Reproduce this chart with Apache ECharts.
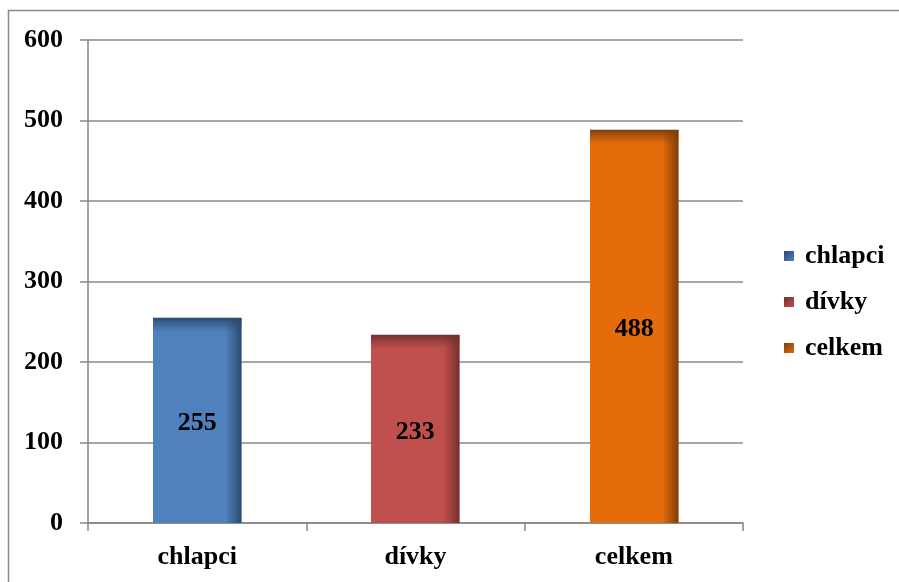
<!DOCTYPE html>
<html>
<head>
<meta charset="utf-8">
<script src="https://cdn.jsdelivr.net/npm/echarts@6/dist/echarts.min.js"></script>
<style>
  html, body { margin: 0; padding: 0; background: #fff; }
  #chart { width: 899px; height: 582px; }
</style>
</head>
<body>
<div id="chart"></div>
<script>
// Počty žáků
const categories = ['chlapci', 'dívky', 'celkem'];
const values = [255, 233, 488];
const yTicks = [0, 100, 200, 300, 400, 500, 600];

const baseColors = ['#4F81BD', '#C0504D', '#E46C0A'];
const darkColors = ['#2B4A70', '#74302E', '#7E3E08'];

const FONT = '"Liberation Serif", "Times New Roman", serif';

function shade(c, a) {
  // hex -> rgba
  const n = parseInt(c.slice(1), 16);
  return 'rgba(' + (n >> 16) + ',' + ((n >> 8) & 255) + ',' + (n & 255) + ',' + a + ')';
}

function makeRender(idx) {
  return function (params, api) {
    const xi = api.value(0);
    const v = api.value(1);
    const top = api.coord([xi, v]);
    const base = api.coord([xi, 0]);
    const bw = api.size([1, 0])[0] * 0.405;
    const left = Math.round(top[0] - bw / 2);
    const y0 = Math.round(top[1]);
    const h = Math.round(base[1]) - y0;
    const dark = darkColors[idx];
    return {
      type: 'group',
      children: [
        { type: 'rect', shape: { x: left, y: y0, width: bw, height: h },
          style: { fill: baseColors[idx] } },
        { type: 'rect', shape: { x: left, y: y0, width: bw, height: Math.min(14, h) },
          style: { fill: new echarts.graphic.LinearGradient(0, 0, 0, 1, [
            { offset: 0, color: shade(dark, 1) },
            { offset: 0.35, color: shade(dark, 0.55) },
            { offset: 1, color: shade(dark, 0) }
          ]) } },
        { type: 'rect', shape: { x: left + bw - 16, y: y0, width: 16, height: h },
          style: { fill: new echarts.graphic.LinearGradient(0, 0, 1, 0, [
            { offset: 0, color: shade(dark, 0) },
            { offset: 0.6, color: shade(dark, 0.6) },
            { offset: 1, color: shade(dark, 1) }
          ]) } },
        { type: 'line', shape: { x1: left, y1: y0 - 0.5, x2: left + bw, y2: y0 - 0.5 },
          style: { stroke: '#C8CDD4', lineWidth: 1 } },
        { type: 'text', x: left + bw / 2, y: (y0 + base[1]) / 2 + 3,
          style: { text: String(v), fill: '#000', font: 'bold 26px ' + FONT,
                   align: 'center', verticalAlign: 'middle' } }
      ]
    };
  };
}

const series = categories.map(function (name, i) {
  return {
    name: name,
    type: 'custom',
    renderItem: makeRender(i),
    itemStyle: { color: baseColors[i] },
    encode: { x: 0, y: 1 },
    data: [[i, values[i]]]
  };
});

const chart = echarts.init(document.getElementById('chart'));
chart.setOption({
  animation: false,
  graphic: [{
    type: 'rect', silent: true,
    shape: { x: 8.5, y: 10.5, width: 1000, height: 1000 },
    style: { fill: 'none', stroke: '#8A8A8A', lineWidth: 1.5 }
  }],
  grid: { left: 88, top: 40, right: 156, bottom: 59 },
  legend: {
    orient: 'vertical',
    left: 779, top: 236,
    itemWidth: 10, itemHeight: 10, itemGap: 16,
    icon: 'rect',
    textStyle: { fontFamily: FONT, fontWeight: 'bold', fontSize: 26, color: '#000',
                 lineHeight: 30, padding: [0, 0, 0, 6] },
    data: categories.map(function (name, i) {
      return { name: name, itemStyle: { color: new echarts.graphic.LinearGradient(0, 0, 1, 1, [
        { offset: 0, color: darkColors[i] }, { offset: 1, color: baseColors[i] }
      ]) } };
    })
  },
  xAxis: {
    type: 'category',
    data: categories,
    axisLine: { lineStyle: { color: '#868686', width: 1.5 } },
    axisTick: { show: true, length: 8, interval: 0, lineStyle: { color: '#868686', width: 1.5 } },
    axisLabel: { margin: 21, fontFamily: FONT, fontWeight: 'bold', fontSize: 26, color: '#000' }
  },
  yAxis: {
    type: 'value',
    min: yTicks[0], max: yTicks[yTicks.length - 1], interval: 100,
    axisLine: { show: true, lineStyle: { color: '#868686', width: 1.5 } },
    axisTick: { show: true, length: 8, lineStyle: { color: '#868686', width: 1.5 } },
    splitLine: { lineStyle: { color: '#8A8A8A', width: 1.5 } },
    axisLabel: { margin: 25, padding: [6, 0, 0, 0], fontFamily: FONT, fontWeight: 'bold',
                 fontSize: 26, color: '#000' }
  },
  series: series
});
</script>
</body>
</html>
